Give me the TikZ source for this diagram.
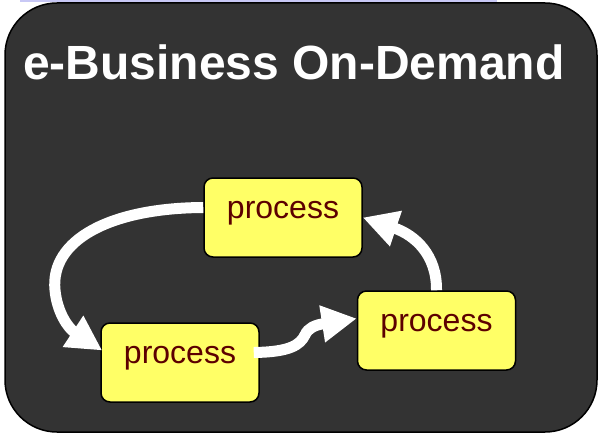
\documentclass[tikz,border=0pt]{standalone}
\usepackage{fontspec}
\setmainfont{Liberation Sans}
\usetikzlibrary{arrows.meta,calc}
\definecolor{panel}{HTML}{333333}
\definecolor{boxfill}{HTML}{FFFF66}
\definecolor{boxtext}{HTML}{5C0000}
\definecolor{band}{RGB}{200,200,245}
\begin{document}
\begin{tikzpicture}[x=1pt,y=-1pt,
  procbox/.style={draw=black,line width=1.5pt,fill=boxfill,rounded corners=9pt,
    inner sep=0pt,text width=158pt,align=center,text height=40pt,text depth=39pt,
    text=boxtext,font=\fontsize{32}{38}\selectfont},
  flow/.style={draw=white,line width=11pt,-{Triangle[length=35pt,width=35pt]}}]
\useasboundingbox (0,0) rectangle (599,433);
\fill[band] (20,0) rectangle (497,2);
\draw[fill=panel,draw=black,line width=1.5pt,rounded corners=52pt] (5,3) rectangle (597,432);
\node[anchor=base west,text=white,inner sep=0pt,font=\fontsize{48}{58}\selectfont\bfseries] (title) at (23,80) {e-Business On-Demand};
\node[procbox] (p1) at (283,217.5) {process};
\node[procbox] (p2) at (180,362.5) {process};
\node[procbox] (p3) at (436.5,330.5) {process};
\draw[flow] ($(p1.west)+(0,-10)$) .. controls (110,208) and (50,240) .. (55,290)
  .. controls (57,312) and (68,328) .. ($(p2.west)+(2,-12)$);
\draw[flow] ($(p2.east)+(-6,-10)$) .. controls (290,352) and (300,345) .. (305,335)
  .. controls (308,328) and (315,325) .. ($(p3.west)+(0,-12)$);
\draw[flow] (p3.north) .. controls (437,255) and (415,235) .. (p1.east);
\end{tikzpicture}
\end{document}
